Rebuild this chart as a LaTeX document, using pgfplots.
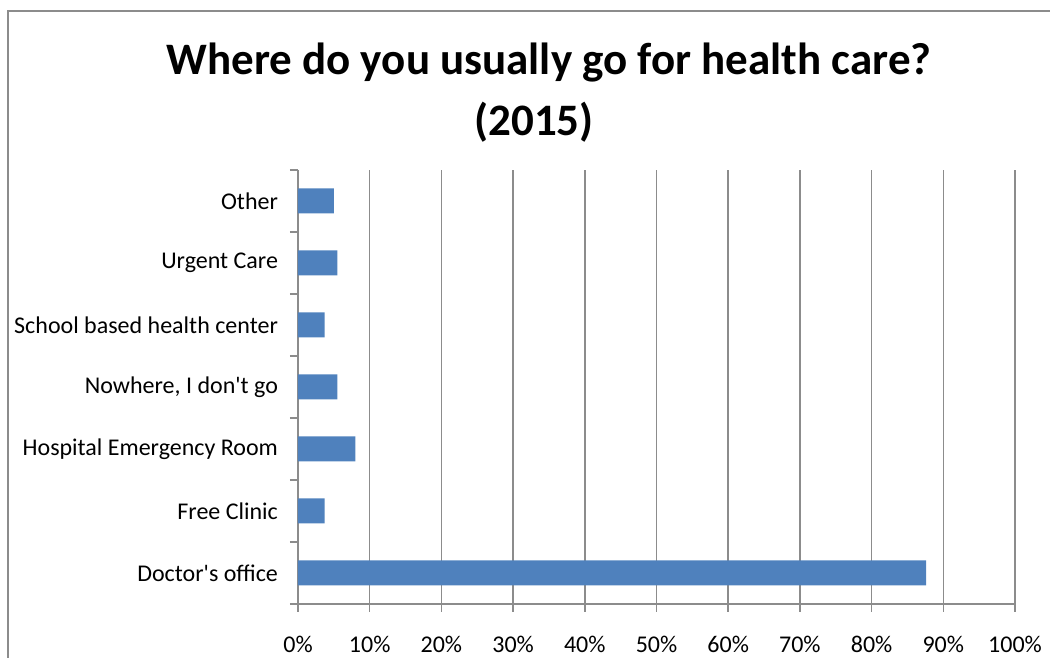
\documentclass[border=0pt]{standalone}
\usepackage{fontspec}
\setmainfont{Carlito}
\usepackage{pgfplots}
\pgfplotsset{compat=1.18}
\definecolor{barblue}{HTML}{4F81BD}
\definecolor{gridgray}{HTML}{8C8C8C}
\begin{document}
\begin{tikzpicture}
\useasboundingbox (0,0) rectangle (525pt,329pt);
\draw[gridgray, line width=1pt] (4pt,-5pt) -- (4pt,323.5pt) -- (530pt,323.5pt);
\node[anchor=base, font=\fontsize{22.5}{27}\selectfont\bfseries] at (274.5pt,291.5pt) {Where do you usually go for health care?};
\node[anchor=base, font=\fontsize{22.5}{27}\selectfont\bfseries] at (267pt,261pt) {(2015)};
\begin{axis}[
  at={(149pt,27pt)}, anchor=south west,
  scale only axis, width=358.5pt, height=217pt,
  xbar, bar width=12.5pt,
  xmin=0, xmax=100, ymin=-0.5, ymax=6.5,
  axis lines=left, axis line style={-, gridgray, line width=0.8pt},
  xtick={0,10,...,100},
  xticklabel={\pgfmathprintnumber{\tick}\%},
  xmajorgrids, major grid style={gridgray, line width=0.8pt},
  ytick={0,...,6},
  yticklabels={Doctor\textquotesingle s office, Free Clinic, Hospital Emergency Room, {Nowhere, I don\textquotesingle t go}, School based health center, Urgent Care, Other},
  minor ytick={-0.5,0.5,...,6.5},
  tick align=outside,
  major tick length=4pt, minor tick length=4pt,
  y tick style={draw=none},
  minor y tick style={draw=gridgray, line width=0.8pt},
  x tick style={gridgray, line width=0.8pt},
  ticklabel style={font=\fontsize{12}{14}\selectfont},
  /pgf/number format/assume math mode=true,
  yticklabel style={xshift=-2.5pt},
  xticklabel style={yshift=-8.5pt},
]
\addplot[fill=barblue, draw=none] coordinates {
(87.6,0) (3.7,1) (8.0,2) (5.5,3) (3.7,4) (5.5,5) (5.0,6)
};
\end{axis}
\end{tikzpicture}
\end{document}
